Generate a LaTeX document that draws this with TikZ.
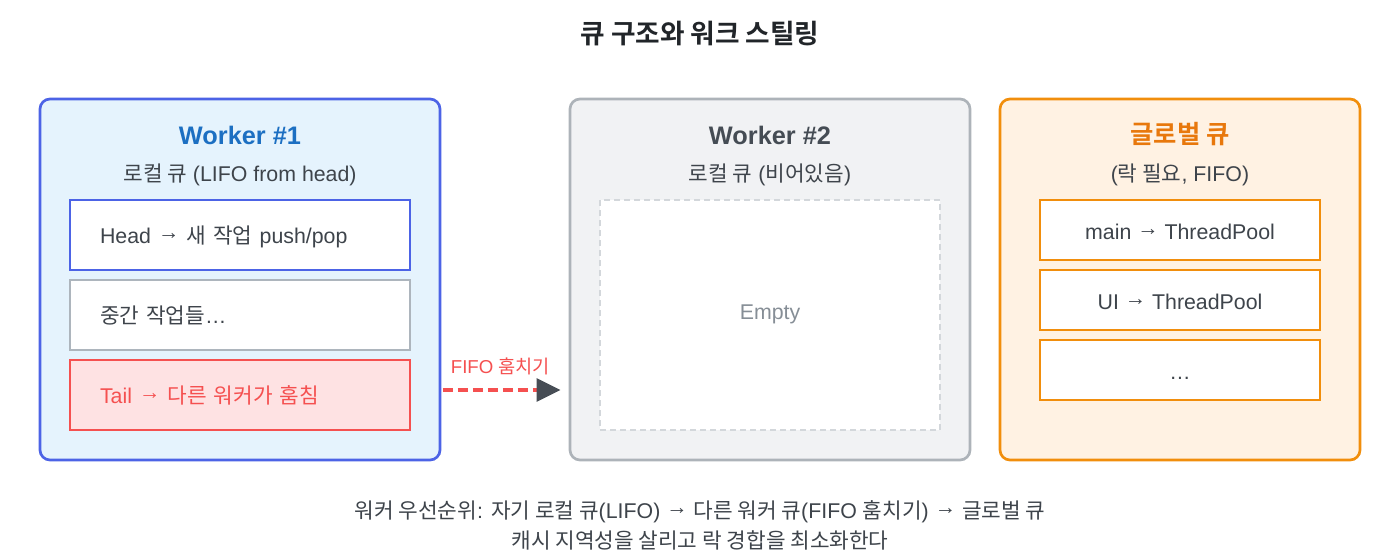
\documentclass[tikz,border=0pt]{standalone}
\usepackage{fontspec}
\setmainfont{Liberation Sans}
\newfontfamily\krf{Noto Sans CJK KR}[BoldFont={Noto Sans CJK KR Bold}]
\newcommand\hg[1]{{\krf #1}}
\newcommand\rarr{\raisebox{0.19em}{→}}
\usetikzlibrary{arrows.meta}
\definecolor{wOneB}{HTML}{4C63E6}
\definecolor{wOneF}{HTML}{E5F3FD}
\definecolor{wOneT}{HTML}{1C6FC2}
\definecolor{midG}{HTML}{ADB5BD}
\definecolor{tailR}{HTML}{F55050}
\definecolor{tailF}{HTML}{FEE2E3}
\definecolor{wTwoB}{HTML}{ADB3B9}
\definecolor{wTwoF}{HTML}{F1F2F4}
\definecolor{wTwoT}{HTML}{454C54}
\definecolor{dashG}{HTML}{D3D7DB}
\definecolor{emptyG}{HTML}{868E96}
\definecolor{orB}{HTML}{F18E0C}
\definecolor{orF}{HTML}{FFF2E3}
\definecolor{orT}{HTML}{E8780C}
\definecolor{bodyT}{HTML}{3E444B}
\definecolor{titleT}{HTML}{212529}
\definecolor{tipG}{HTML}{474D55}
\begin{document}
\begin{tikzpicture}[x=0.75pt,y=-0.75pt,
  outer/.style={draw, line width=2pt, rounded corners=7.5pt, minimum width=#1, minimum height=270.75pt, inner sep=0pt},
  wtitle/.style={font=\fontsize{19pt}{22pt}\selectfont\bfseries, inner sep=0pt, anchor=base},
  sub/.style={font=\fontsize{16pt}{19pt}\selectfont, text=bodyT, inner sep=0pt, anchor=base},
  lbox/.style={draw, line width=1.4pt, fill=white, text width=210pt, inner xsep=22.5pt, inner ysep=0pt, minimum height=52.5pt, align=left, font=\fontsize{16pt}{19pt}\selectfont, text=bodyT, text height=12.3pt, text depth=0pt},
  cbox/.style={draw=orB, line width=1.4pt, fill=white, minimum width=210pt, minimum height=45pt, inner sep=0pt, font=\fontsize{16pt}{19pt}\selectfont, text=bodyT, text height=14.5pt, text depth=0pt},
  note/.style={font=\fontsize{16pt}{19pt}\selectfont, text=bodyT, inner sep=0pt, anchor=base}
]
\useasboundingbox (0,0) rectangle (1400,560);
\fill[white] (0,0) rectangle (1400,560);

\node[font=\fontsize{20pt}{24pt}\selectfont\bfseries, text=titleT, inner sep=0pt, anchor=base] (title) at (700,43.5) {\hg{큐 구조와 워크 스틸링}};

% Worker 1
\node[outer=300pt, draw=wOneB, fill=wOneF] (w1) at (240,279.5) {};
\node[wtitle, text=wOneT] (w1t) at (240,144) {Worker \#1};
\node[sub] (w1s) at (240,181) {\hg{로컬 큐} (LIFO from head)};
\node[lbox, draw=wOneB] (head) at (240,235) {Head \rarr{} \hg{새 작업} push/pop};
\node[lbox, draw=midG] (mid) at (240,315) {\hg{중간 작업들}…};
\node[lbox, draw=tailR, fill=tailF, text=tailR] (tail) at (240,395) {Tail \rarr{} \hg{다른 워커가 훔침}};

% Worker 2
\node[outer=300pt, draw=wTwoB, fill=wTwoF] (w2) at (770,279.5) {};
\node[wtitle, text=wTwoT] (w2t) at (770,144) {Worker \#2};
\node[sub] (w2s) at (770,181) {\hg{로컬 큐} (\hg{비어있음})};
\node[draw=dashG, line width=1.2pt, dash pattern=on 4.5pt off 3pt, fill=white, minimum width=255pt, minimum height=172.5pt, inner sep=0pt, font=\fontsize{16pt}{19pt}\selectfont, text=emptyG, text height=11.5pt, text depth=5pt] (empty) at (770,315) {Empty};

% Global queue
\node[outer=270pt, draw=orB, fill=orF] (gq) at (1180,279.5) {};
\node[wtitle, text=orT] (gqt) at (1180,143.5) {\hg{글로벌 큐}};
\node[sub] (gqs) at (1180,181) {(\hg{락 필요}, FIFO)};
\node[cbox] (g1) at (1180,230) {main \rarr{} ThreadPool};
\node[cbox] (g2) at (1180,300) {UI \rarr{} ThreadPool};
\node[cbox] (g3) at (1180,370) {…};

% steal arrow
\draw[draw=tailR, line width=2.8pt, dash pattern=on 7.5pt off 3.75pt,
  -{Triangle[length=18pt, width=17pt, color=tipG, fill=tipG]}]
  ([xshift=1.2pt,yshift=3.75pt]w1.east |- tail.east) -- ([xshift=-6pt,yshift=3.75pt]w2.west |- tail.east)
  node[pos=0.5, xshift=-1pt, yshift=12.75pt, font=\fontsize{14pt}{16pt}\selectfont, text=tailR, inner sep=0pt, anchor=base] (stl) {FIFO \hg{훔치기}};

% notes
\node[note] (n1) at (700,518.5) {\hg{워커 우선순위}: \hg{자기 로컬 큐}(LIFO) \rarr{} \hg{다른 워커 큐}(FIFO \hg{훔치기}) \rarr{} \hg{글로벌 큐}};
\node[note] (n2) at (700,548) {\hg{캐시 지역성을 살리고 락 경합을 최소화한다}};
\end{tikzpicture}
\end{document}
